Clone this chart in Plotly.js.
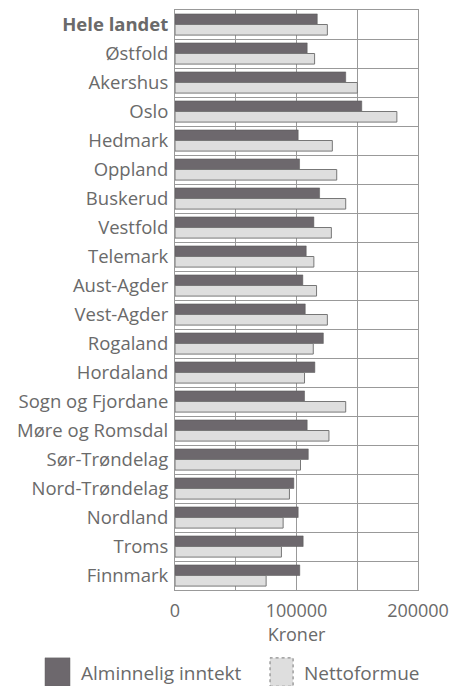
<!DOCTYPE html>
<html><head><meta charset="utf-8">
<script src="https://cdn.plot.ly/plotly-3.0.1.min.js"></script>
<style>html,body{margin:0;padding:0;background:#fff}#c{width:449px;height:686px}</style>
</head><body><div id="c"></div>
<script>
const categories = ["Hele landet","Østfold","Akershus","Oslo","Hedmark","Oppland","Buskerud","Vestfold","Telemark","Aust-Agder","Vest-Agder","Rogaland","Hordaland","Sogn og Fjordane","Møre og Romsdal","Sør-Trøndelag","Nord-Trøndelag","Nordland","Troms","Finnmark"];
const categoryLabels = ["<b>Hele landet</b>","Østfold","Akershus","Oslo","Hedmark","Oppland","Buskerud","Vestfold","Telemark","Aust-Agder","Vest-Agder","Rogaland","Hordaland","Sogn og Fjordane","Møre og Romsdal","Sør-Trøndelag","Nord-Trøndelag","Nordland","Troms","Finnmark"];
const seriesNames = ["Alminnelig inntekt","Nettoformue"];
const alminneligInntekt = [117100,108800,140500,153700,101400,102500,119000,114300,108000,105200,107200,122100,115100,106600,108800,109700,97800,101400,105500,102700];
const nettoformue = [125400,114900,150100,182600,129500,133100,140500,128700,114300,116500,125400,113800,106600,140500,126700,103300,94200,89000,87600,75000];
const xTickVals = [0,50000,100000,150000,200000];
const xTickText = ["0","","100000","","200000"];

const fam = "Open Sans, Noto Sans, sans-serif";
const txt = "#6a6a6a";
const darkCol = "#6d686d", lightCol = "#dedede";
const data = [
  {type:"bar", orientation:"h", name:seriesNames[0], y:categories, x:alminneligInntekt,
   marker:{color:darkCol, line:{color:"#555", width:0.5}}},
  {type:"bar", orientation:"h", name:seriesNames[1], y:categories, x:nettoformue,
   marker:{color:lightCol, line:{color:"#777", width:1}}}
];
// legend drawn as paper-referenced shapes + annotations
const layout = {
  width:449, height:686,
  margin:{l:175, r:31, t:10, b:96},
  paper_bgcolor:"#fff", plot_bgcolor:"#fff",
  font:{family:fam, color:txt, size:18},
  barmode:"group", bargap:0.27, bargroupgap:0,
  showlegend:false,
  shapes:[
    {type:"rect", xref:"paper", yref:"paper", x0:-0.535, x1:-0.432, y0:-0.166, y1:-0.117,
     fillcolor:darkCol, line:{color:"#666", width:0.5}},
    {type:"rect", xref:"paper", yref:"paper", x0:0.391, x1:0.486, y0:-0.166, y1:-0.117,
     fillcolor:lightCol, line:{color:"#777", width:1, dash:"dot"}}
  ],
  annotations:[
    {xref:"paper", yref:"paper", x:-0.395, y:-0.143, xanchor:"left", yanchor:"middle",
     text:seriesNames[0], showarrow:false, font:{size:19, color:txt}},
    {xref:"paper", yref:"paper", x:0.523, y:-0.143, xanchor:"left", yanchor:"middle",
     text:seriesNames[1], showarrow:false, font:{size:19, color:txt}}
  ],
  xaxis:{range:[0,200000], tickvals:xTickVals, ticktext:xTickText,
         showgrid:true, gridcolor:"#999", gridwidth:1, zeroline:false,
         showline:true, linecolor:"#999", mirror:true, ticks:"",
         tickfont:{size:18, color:txt}, ticklabelstandoff:4,
         title:{text:"Kroner", font:{size:18, color:txt}, standoff:4}},
  yaxis:{autorange:"reversed", type:"category", tickvals:categories, ticktext:categoryLabels,
         tickson:"boundaries", showgrid:true, gridcolor:"#999", gridwidth:1,
         showline:true, linecolor:"#999", mirror:true, ticks:"",
         tickfont:{size:18.5, color:txt}, ticklabelstandoff:2}
};
Plotly.newPlot("c", data, layout, {displayModeBar:false, staticPlot:true});
</script></body></html>
